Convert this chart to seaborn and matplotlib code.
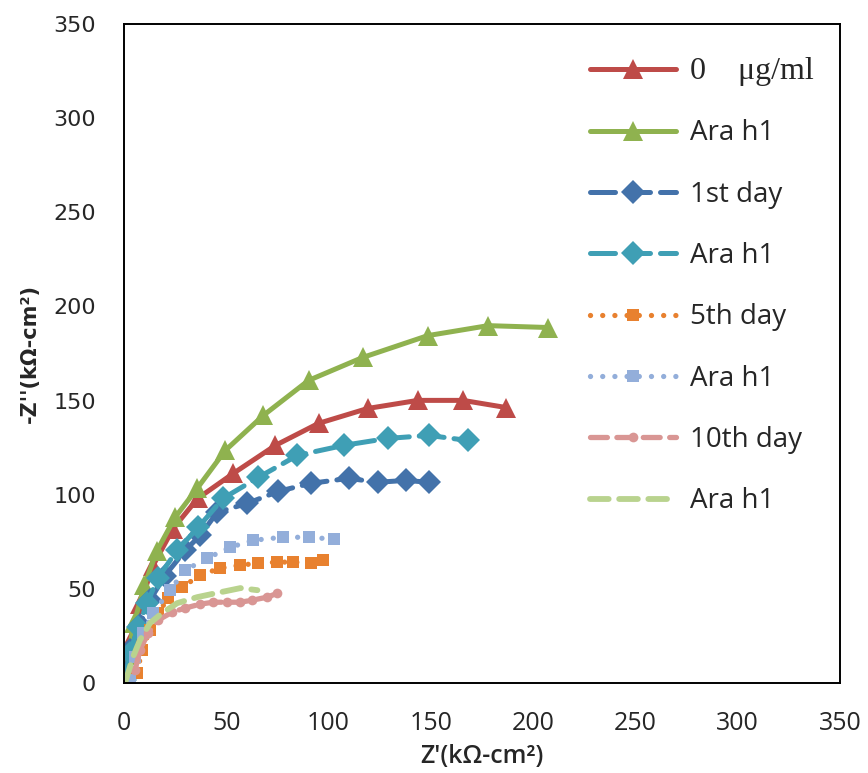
import matplotlib
matplotlib.use("Agg")
import matplotlib.pyplot as plt
import seaborn as sns
import pandas as pd

sns.set_theme(style="white")
plt.rcParams['font.family'] = ['DejaVu Sans']

# ---- data (Z' , -Z'') in kOhm-cm2 ----
ctrl0_x = [0.5, 1.5, 4, 8, 14, 24, 36, 53.4, 74.0, 95.1, 119.1, 143.6, 165.7, 186.8]
ctrl0_y = [0, 8, 24, 42, 62, 82, 98, 111.3, 126.2, 137.9, 145.8, 150.1, 150.1, 146.3]

ara0_x = [0, 0.5, 2, 5, 10, 16, 25.0, 35.8, 49.5, 68.1, 90.2, 116.7, 148.5, 178.0, 207.4]
ara0_y = [0, 3, 15, 32, 52, 70, 88.0, 103.4, 123.5, 142.1, 160.7, 172.9, 184.5, 189.8, 188.8]

day1_x = [0.5, 3, 7.8, 12.7, 20, 30, 37.3, 45.6, 60.3, 75.5, 91.2, 109.8, 124.0, 137.7, 149.0]
day1_y = [4, 17.5, 30.8, 44, 57, 70.5, 78.5, 90.7, 95.4, 101.8, 106.0, 108.7, 106.6, 107.6, 106.6]

ara1_x = [0.5, 2.9, 6.9, 11.3, 16.7, 26, 36.3, 48.5, 65.7, 84.8, 107.4, 128.9, 149.0, 168.1]
ara1_y = [1.6, 15.9, 29.7, 42.4, 56, 70.5, 82.7, 98.1, 109.2, 120.9, 126.2, 129.9, 131.5, 128.8]

day5_x = [6.4, 8.8, 12.7, 16.7, 21.6, 28.4, 37.3, 47.1, 56.9, 65.7, 75.0, 82.8, 91.2, 97.5]
day5_y = [5.3, 17.5, 28.1, 37.1, 45.1, 50.9, 57.3, 61.0, 62.6, 63.6, 64.2, 64.2, 63.6, 65.2]

ara5_x = [2.9, 5.4, 9.3, 14.2, 22.5, 29.9, 40.7, 52.0, 63.2, 77.5, 90.2, 102.5]
ara5_y = [1.6, 13.8, 26.5, 37.1, 49.3, 59.9, 66.3, 72.1, 75.8, 77.4, 77.4, 76.4]

day10_x = [5.4, 7.8, 11.8, 16.7, 23.5, 29.9, 37.3, 43.6, 50.5, 56.9, 62.7, 70.1, 75.0]
day10_y = [6.9, 17.5, 26.5, 33.4, 37.6, 39.8, 41.9, 42.9, 42.9, 42.9, 44.0, 45.6, 47.7]

ara10_x = [0.5, 2, 4.4, 7.8, 12.7, 18.6, 26.0, 35.8, 47.1, 56.9, 65.2]
ara10_y = [0, 5.3, 13.8, 22.8, 31.8, 37.1, 42.4, 45.6, 48.2, 50.4, 49.3]

labels = ["0    \u03bcg/ml", "Ara h1", "1st day", "Ara h1", "5th day", "Ara h1", "10th day", "Ara h1"]
x_ticks = [0, 50, 100, 150, 200, 250, 300, 350]
y_ticks = [0, 50, 100, 150, 200, 250, 300, 350]

series = [
    (ctrl0_x, ctrl0_y), (ara0_x, ara0_y), (day1_x, day1_y), (ara1_x, ara1_y),
    (day5_x, day5_y), (ara5_x, ara5_y), (day10_x, day10_y), (ara10_x, ara10_y),
]

styles = [
    dict(color="#BE4B48", marker="^", markersize=14, linewidth=3.6, linestyle="-", cap="butt"),
    dict(color="#8FB24F", marker="^", markersize=14, linewidth=3.6, linestyle="-", cap="butt"),
    dict(color="#4372AA", marker="D", markersize=12, linewidth=3.6, linestyle=(0, (5, 2)), cap="round"),
    dict(color="#3F9FB5", marker="D", markersize=12, linewidth=3.6, linestyle=(0, (5, 2)), cap="round"),
    dict(color="#E8812F", marker="s", markersize=8, linewidth=3.8, linestyle=(0, (0.01, 2.3)), cap="round"),
    dict(color="#93AEDA", marker="s", markersize=8, linewidth=3.8, linestyle=(0, (0.01, 2.3)), cap="round"),
    dict(color="#D99694", marker="o", markersize=7, linewidth=3.8, linestyle=(0, (3.2, 1.8)), cap="round"),
    dict(color="#B9D38E", marker=None, markersize=0, linewidth=4.2, linestyle=(0, (3.2, 1.8)), cap="round"),
]

fig = plt.figure(figsize=(8.68, 7.73), dpi=100)
ax = fig.add_axes([124 / 868, 1 - 683 / 773, (840 - 124) / 868, (683 - 24) / 773])

for (xs, ys), lab, st in zip(series, labels, styles):
    df = pd.DataFrame({"x": xs, "y": ys})
    kw = dict(color=st["color"], linewidth=st["linewidth"], linestyle=st["linestyle"],
              dash_capstyle=st["cap"])
    if st["marker"]:
        kw.update(marker=st["marker"], markersize=st["markersize"], markeredgewidth=0)
    sns.lineplot(data=df, x="x", y="y", sort=False, estimator=None, ax=ax, label=lab, **kw)

ax.set_xlim(0, 350)
ax.set_ylim(0, 350)
ax.set_xticks(x_ticks)
ax.set_yticks(y_ticks)
ax.set_xticklabels([str(v) for v in x_ticks], fontfamily="Open Sans", fontsize=18)
ax.set_yticklabels([str(v) for v in y_ticks], fontfamily="DejaVu Sans", fontsize=16)
ax.tick_params(axis="both", direction="out", length=7, width=1.3, color="black")
ax.tick_params(axis="x", pad=13)
ax.tick_params(axis="y", pad=13)
for sp in ax.spines.values():
    sp.set_visible(True)
    sp.set_color("black")
    sp.set_linewidth(1.4)

ax.set_xlabel("Z'(k\u03a9-cm\u00b2)", fontfamily="Open Sans", fontweight="semibold", fontsize=18, labelpad=6)
ax.set_ylabel("-Z''(k\u03a9-cm\u00b2)", fontfamily="DejaVu Sans", fontweight="bold", fontsize=15, labelpad=10)

leg = ax.legend(loc="upper left", bbox_to_anchor=((565 - 124) / 716, 0.988), frameon=False,
                handlelength=3.1, handletextpad=0.5, labelspacing=1.2,
                prop={"family": "Open Sans", "size": 20})
for i, t in enumerate(leg.get_texts()):
    if i == 0:
        t.set_fontfamily("Liberation Serif")
        t.set_fontsize(23)

fig.savefig("out.png", dpi=100)
